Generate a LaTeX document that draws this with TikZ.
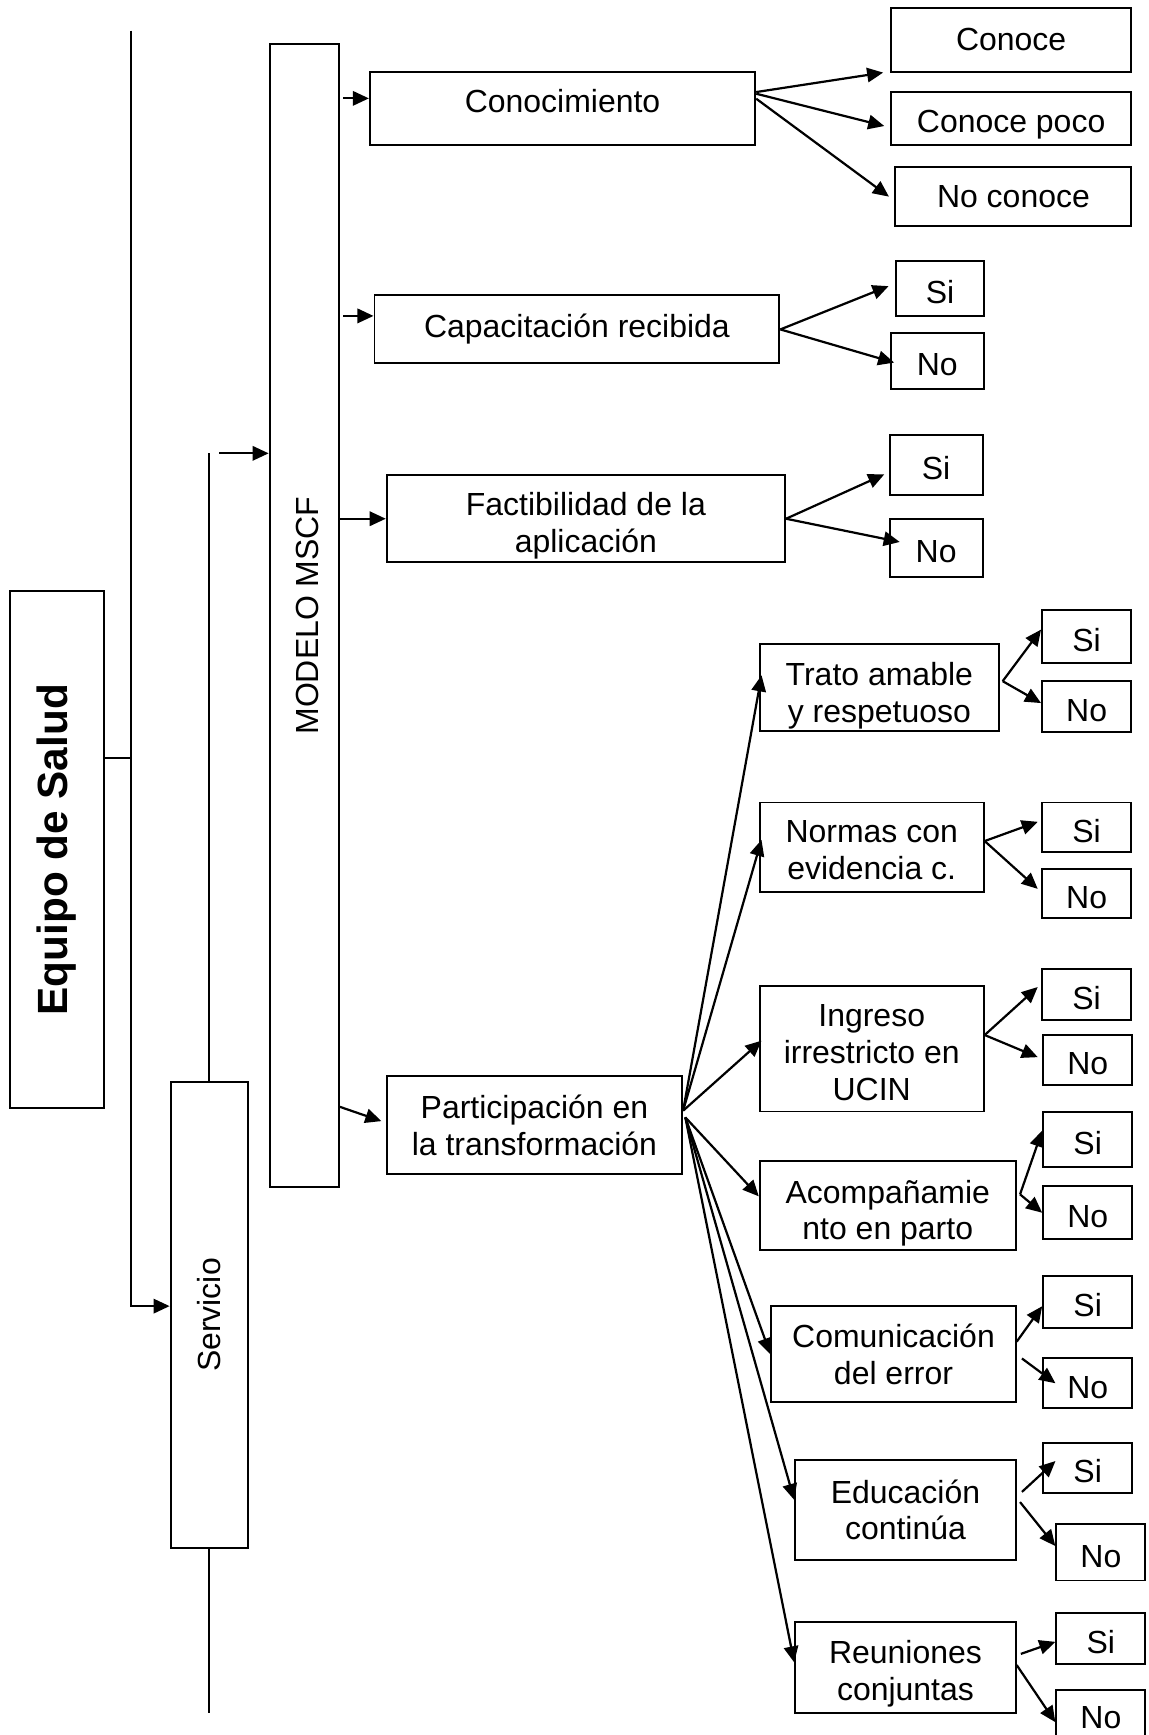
\documentclass[tikz,border=0pt]{standalone}
\usepackage{fontspec}
\setmainfont{Liberation Sans}
\usetikzlibrary{arrows.meta, positioning}
\tikzset{
  box/.style = {rectangle, draw, line width=1.8pt, inner sep=0pt, align=center,
                font=\fontsize{28.9}{33.3}\selectfont},
  base/.style = {text height=#1, text depth=0pt},
  arrow/.style = {-{Triangle[length=14.5pt, width=13pt]}, line width=2pt},
  link/.style = {line width=2pt},
}

\begin{document}
\begin{tikzpicture}[x=1pt, y=-1pt,
  vtext/.style = {rotate=90, inner sep=0pt, font=\fontsize{28.9}{33.3}\selectfont},
  ans/.style = {box, base=27pt, minimum width=80.5pt},
]
  \useasboundingbox (0,0) rectangle (1038,1568);

  % Left column: Equipo de Salud, Servicio, MODELO MSCF
  \node[box, minimum width=85.8pt, minimum height=467.7pt] (Equipo) at (51.5,767.9) {};
  \node[vtext, font=\fontsize{38.2}{44}\selectfont\bfseries] (EquipoTxt) at (Equipo.center) {Equipo de Salud};
  \node[box, minimum width=69.8pt, minimum height=421pt] (Servicio) at (189.1,1188.4) {};
  \node[vtext] (ServicioTxt) at (Servicio.center) {Servicio};
  \node[box, minimum width=62.6pt, minimum height=1033pt] (MSCF) at (275,556.3) {};
  \node[vtext] (MSCFTxt) at ([xshift=3pt]MSCF.center) {MODELO MSCF};

  % Second level
  \node[box, base=8.6pt, minimum width=348.2pt, minimum height=66pt] (Conoc) at (508.4,97.7)  {Conocimiento};
  \node[box, minimum width=365.9pt, minimum height=61.5pt] (Capac) at (521.4,297.7) {Capacitación recibida};
  \node[box, base=60.4pt, minimum width=360pt, minimum height=78.8pt] (Fact) at (529.5,468.8) {Factibilidad de la\\aplicación};
  \node[box, minimum width=266.9pt, minimum height=88.1pt] (Part) at (483,1016.8) {Participación en\\la transformación};

  % Answers for Conocimiento, Capacitacion, Factibilidad
  \node[box, minimum width=217.5pt, minimum height=57.8pt] (Conoce) at (913.8,35.8) {Conoce};
  \node[box, base=24.8pt, minimum width=217.5pt, minimum height=47.7pt] (ConPoco) at (913.8,106.9) {Conoce poco};
  \node[box, minimum width=213.3pt, minimum height=53.2pt] (NoConoce) at (915.9,177.7) {No conoce};
  \node[ans, minimum width=79.3pt, minimum height=49.8pt] (CapSi) at (849.6,261)   {Si};
  \node[ans, minimum width=84.2pt, minimum height=50.9pt] (CapNo) at (847.1,326.2) {No};
  \node[ans, minimum width=83.9pt, minimum height=53.9pt] (FacSi) at (846,420)     {Si};
  \node[ans, minimum width=83.9pt, minimum height=52.2pt] (FacNo) at (846,495.2)   {No};

  % Participacion branches
  \node[box, base=63.4pt, minimum width=216.1pt, minimum height=78.6pt]  (Trato)   at (794.7,621.3)  {Trato amable\\y respetuoso};
  \node[box, base=59pt,   minimum width=202.4pt, minimum height=80.5pt]  (Normas)  at (787.8,765.5)  {Normas con\\evidencia c.};
  \node[box, base=93.4pt, minimum width=202.4pt, minimum height=113.4pt] (Ingreso) at (787.8,947.8)  {Ingreso\\irrestricto en\\UCIN};
  \node[box, base=62.6pt, minimum width=231.3pt, minimum height=80.3pt]  (Acomp)   at (802.3,1089.2) {Acompañamie\\nto en parto};
  \node[box, minimum width=220.9pt, minimum height=86.6pt]  (Comun)   at (807.5,1223.8) {Comunicación\\del error};
  \node[box, minimum width=199.3pt, minimum height=90.4pt]  (Educ)    at (818.3,1364.5) {Educación\\continúa};
  \node[box, base=59.8pt, minimum width=199.3pt, minimum height=81.6pt]  (Reun)    at (818.3,1507.1) {Reuniones\\conjuntas};

  \node[ans, minimum height=48.1pt] (TSi) at (982,575)      {Si};
  \node[ans, minimum height=45.6pt] (TNo) at (982,638.4)    {No};
  \node[ans, minimum height=44.9pt] (NSi) at (982,747.7)    {Si};
  \node[ans, minimum height=44.2pt] (NNo) at (982,807.8)    {No};
  \node[ans, minimum height=46.3pt] (ISi) at (982,899)      {Si};
  \node[ans, minimum height=44.9pt] (INo) at (983,957.9)    {No};
  \node[ans, minimum height=50.1pt] (ASi) at (983,1029.6)   {Si};
  \node[ans, minimum height=47.9pt] (ANo) at (983,1096)     {No};
  \node[ans, minimum height=47.3pt] (CSi) at (983,1176.5)   {Si};
  \node[ans, minimum height=44.8pt] (CNo) at (983,1250.1)   {No};
  \node[ans, minimum height=44.8pt] (ESi) at (983,1326.6)   {Si};
  \node[ans, minimum height=51.3pt] (ENo) at (994.9,1402.7) {No};
  \node[ans, minimum height=46.4pt] (RSi) at (994.9,1480.8) {Si};
  \node[ans, base=17pt, minimum height=52pt] (RNo) at (994.9,1553.6) {No};

  % Spine: Equipo de Salud -> Servicio
  \coordinate (spineTop) at (118.2,27.7);
  \coordinate (eqJoin)   at (118.2,684.7);
  \draw[link]  (Equipo.east |- eqJoin) -- (eqJoin);
  \draw[arrow] (spineTop) |- ([yshift=8pt]Servicio.west);

  % Servicio -> MODELO MSCF
  \coordinate (servTop) at (189.1,409.7);
  \coordinate (servEnd) at (189.1,1548);
  \draw[link]  (Servicio.north) -- (servTop);
  \draw[link]  (Servicio.south) -- (servEnd);
  \draw[arrow] ([xshift=9pt]servTop) -- (MSCF.west |- servTop);

  % MODELO MSCF -> second level
  \coordinate (toConoc) at ([yshift=8.8pt]Conoc.west);
  \coordinate (toCapac) at ([yshift=12.2pt]Capac.west);
  \draw[arrow] ([xshift=3pt]MSCF.east |- toConoc) -- (toConoc);
  \draw[arrow] ([xshift=3pt]MSCF.east |- toCapac) -- (toCapac);
  \draw[arrow] (MSCF.east |- Fact.west) -- (Fact.west);
  \draw[arrow] ([yshift=-444pt]MSCF.east) -- ([xshift=-4pt, yshift=3.6pt]Part.west);

  % Conocimiento
  \draw[arrow] ([yshift=14.5pt]Conoc.east) -- ([xshift=-6pt]Conoce.south west);
  \draw[arrow] ([yshift=13pt]Conoc.east)   -- ([xshift=-5pt, yshift=-7pt]ConPoco.west);
  \draw[arrow] ([yshift=8.5pt]Conoc.east)  -- ([xshift=-5pt]NoConoce.west);

  % Capacitacion, Factibilidad
  \draw[arrow] (Capac.east) -- ([xshift=-6pt, yshift=2.4pt]CapSi.west);
  \draw[arrow] (Capac.east) -- ([xshift=4pt, yshift=-1.5pt]CapNo.west);
  \draw[arrow] (Fact.east)  -- ([xshift=-4pt, yshift=-8.7pt]FacSi.west);
  \draw[arrow] (Fact.east)  -- ([xshift=10pt, yshift=5.4pt]FacNo.west);

  % Participacion fan
  \draw[arrow] ([yshift=13pt]Part.east) -- ([xshift=2.5pt, yshift=11pt]Trato.west);
  \draw[arrow] ([yshift=13pt]Part.east) -- ([xshift=2.5pt, yshift=6.5pt]Normas.west);
  \draw[arrow] ([yshift=13pt]Part.east) -- ([xshift=2.5pt, yshift=7.3pt]Ingreso.west);
  \draw[arrow] ([xshift=2pt, yshift=7pt]Part.east) -- ([yshift=8pt]Acomp.west);
  \draw[arrow] ([xshift=2pt, yshift=7pt]Part.east) -- (Comun.west);
  \draw[arrow] ([xshift=2pt, yshift=7pt]Part.east) -- ([yshift=9pt]Educ.west);
  \draw[arrow] ([xshift=2pt, yshift=7pt]Part.east) -- ([yshift=4.7pt]Reun.west);

  % Si / No
  \draw[arrow] ([xshift=2.5pt, yshift=5.7pt]Trato.east) -- ([yshift=6pt]TSi.west);
  \draw[arrow] ([xshift=2.5pt, yshift=5.7pt]Trato.east) -- ([yshift=3pt]TNo.west);
  \draw[arrow] ([yshift=5.4pt]Normas.east) -- ([xshift=-3pt, yshift=5pt]NSi.west);
  \draw[arrow] ([yshift=5.4pt]Normas.east) -- ([xshift=-3pt, yshift=4.5pt]NNo.west);
  \draw[arrow] ([yshift=12.4pt]Ingreso.east) -- ([xshift=-3pt, yshift=7pt]ISi.west);
  \draw[arrow] ([yshift=12.4pt]Ingreso.east) -- ([xshift=-4pt, yshift=2.5pt]INo.west);
  \draw[arrow] ([xshift=3pt, yshift=9.8pt]Acomp.east) -- ([yshift=7.8pt]ASi.west);
  \draw[arrow] ([xshift=3pt, yshift=9.8pt]Acomp.east) -- (ANo.west);
  \draw[arrow] ([yshift=11.3pt]Comun.east) -- ([yshift=-4pt]CSi.west);
  \draw[arrow] ([xshift=4.7pt, yshift=-3.9pt]Comun.east) -- ([xshift=12pt]CNo.west);
  \draw[arrow] ([xshift=4.7pt, yshift=16.2pt]Educ.east) -- ([xshift=12pt, yshift=6.2pt]ESi.west);
  \draw[arrow] ([xshift=3pt, yshift=7pt]Educ.east) -- ([yshift=5.5pt]ENo.west);
  \draw[arrow] ([xshift=3.7pt, yshift=12.4pt]Reun.east) -- ([yshift=-3pt]RSi.west);
  \draw[arrow] ([yshift=2.3pt]Reun.east) -- ([yshift=-2.8pt]RNo.west);

\end{tikzpicture}
\end{document}
